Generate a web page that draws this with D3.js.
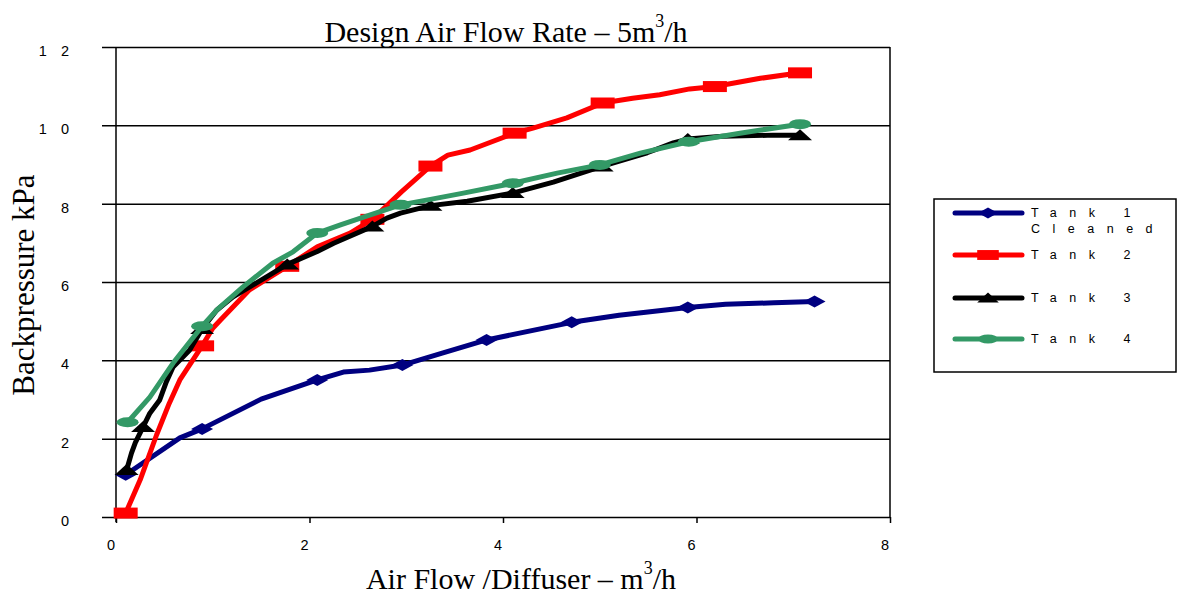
<!DOCTYPE html>
<html lang="en">
<head>
<meta charset="utf-8">
<title>backpressure</title>
<script src="https://cdn.jsdelivr.net/npm/d3@7"></script>
<style>
  body { margin: 0; background: #fff; }
  svg { display: block; }
  .tick text { font-family: "Liberation Sans", Arial, sans-serif; font-size: 14.5px; letter-spacing: 14px; fill: #000; }
  .serif { font-family: "Liberation Serif", "Times New Roman", serif; fill: #000; }
  .leg { font-family: "Liberation Sans", Arial, sans-serif; font-size: 12.5px; letter-spacing: 12.5px; fill: #000; }
</style>
</head>
<body>
<svg id="canvas" width="1177" height="595"></svg>
<script>
// series: [air flow m3/h, backpressure kPa]
const tank1 = [[0.10,1.08],[0.66,2.02],[0.89,2.25],[1.50,3.01],[2.08,3.50],[2.35,3.70],[2.62,3.75],[2.96,3.88],
  [3.38,4.19],[3.83,4.52],[4.71,4.97],[5.20,5.15],[5.91,5.35],[6.30,5.43],[6.80,5.47],[7.22,5.50]]
const tank1Marks = [0, 2, 4, 7, 9, 10, 12, 15]

const tank2 = [[0.10,0.10],[0.25,0.95],[0.42,2.10],[0.55,2.90],[0.66,3.50],[0.89,4.37],[1.00,4.82],[1.08,5.03],
  [1.38,5.80],[1.77,6.40],[2.08,6.90],[2.42,7.25],[2.65,7.60],[2.95,8.30],[3.25,8.96],[3.43,9.24],[3.66,9.37],
  [4.12,9.80],[4.31,9.93],[4.66,10.19],[5.03,10.57],[5.34,10.69],[5.62,10.78],[5.93,10.93],[6.19,10.99],
  [6.66,11.20],[7.07,11.34]]
const tank2Marks = [0, 5, 9, 12, 14, 17, 20, 24, 26]

const tank3 = [[0.11,1.20],[0.16,1.63],[0.20,1.90],[0.28,2.30],[0.35,2.65],[0.45,2.98],[0.52,3.45],[0.59,3.83],
  [0.76,4.26],[0.89,4.80],[1.04,5.28],[1.21,5.62],[1.50,6.05],[1.77,6.45],[2.08,6.78],[2.25,6.99],[2.65,7.42],
  [2.80,7.63],[2.94,7.76],[3.25,7.95],[3.63,8.06],[4.10,8.27],[4.52,8.55],[5.02,8.95],[5.49,9.30],[5.76,9.55],
  [5.91,9.65],[6.27,9.72],[6.79,9.75],[7.07,9.75]]
const tank3Marks = [0, 3, 9, 13, 16, 19, 21, 23, 26, 29]

const tank4 = [[0.12,2.42],[0.35,3.06],[0.59,3.93],[0.89,4.87],[1.04,5.28],[1.31,5.87],[1.62,6.48],[1.83,6.77],
  [2.08,7.25],[2.32,7.46],[2.59,7.68],[2.94,7.97],[3.25,8.11],[3.59,8.27],[4.10,8.52],[4.56,8.78],[5.00,8.99],
  [5.42,9.29],[5.92,9.58],[6.45,9.80],[7.07,10.03]]
const tank4Marks = [0, 3, 8, 11, 14, 16, 18, 20]

const seriesNames = [["Tank 1", "Cleaned"], ["Tank 2"], ["Tank 3"], ["Tank 4"]]
const xTicks = [0, 2, 4, 6, 8]
const yTicks = [0, 2, 4, 6, 8, 10, 12]

const svg = d3.select("#canvas")
const plotL = 116, plotR = 890, plotT = 47, plotB = 517

const x = d3.scaleLinear().domain([0, 8]).range([plotL, plotR])
const y = d3.scaleLinear().domain([0, 12]).range([plotB, plotT])

// grid + y axis
const yAxis = svg.append("g")
  .attr("transform", `translate(${plotL},0)`)
  .call(d3.axisLeft(y).tickValues(yTicks).tickSizeInner(-(plotR - plotL)).tickSizeOuter(0).tickPadding(0))
yAxis.select(".domain").remove()
yAxis.selectAll(".tick line").attr("x1", -14).attr("stroke", "#000").attr("stroke-width", 1.5)
yAxis.selectAll(".tick text").attr("x", -33).attr("dy", null).attr("y", 8.5)

// x axis
const xAxis = svg.append("g")
  .attr("transform", `translate(0,${plotB})`)
  .call(d3.axisBottom(x).tickValues(xTicks).tickSizeInner(6).tickSizeOuter(0).tickPadding(0))
xAxis.select(".domain").remove()
xAxis.selectAll(".tick line").attr("stroke", "#000").attr("stroke-width", 1.5)
xAxis.selectAll(".tick text").attr("dy", null).attr("y", 33).attr("dx", 1.5)

// frame
svg.append("line").attr("x1", plotL).attr("x2", plotL).attr("y1", plotT).attr("y2", plotB + 5)
  .attr("stroke", "#000").attr("stroke-width", 1.5)
svg.append("line").attr("x1", plotR).attr("x2", plotR).attr("y1", plotT).attr("y2", plotB)
  .attr("stroke", "#000").attr("stroke-width", 1.5)

const series = [
  { data: tank1, marks: tank1Marks, color: "#000080", shape: "diamond" },
  { data: tank2, marks: tank2Marks, color: "#ff0000", shape: "square" },
  { data: tank3, marks: tank3Marks, color: "#000000", shape: "triangle" },
  { data: tank4, marks: tank4Marks, color: "#339966", shape: "circle" }
]

function marker(g, shape, color, cx, cy, k) {
  if (shape === "diamond") {
    g.append("path").attr("d", `M${cx - 11 * k},${cy} L${cx},${cy - 6 * k} L${cx + 11 * k},${cy} L${cx},${cy + 6 * k} Z`).attr("fill", color)
  } else if (shape === "square") {
    g.append("rect").attr("x", cx - 12 * k).attr("y", cy - 5.5 * k).attr("width", 24 * k).attr("height", 11 * k).attr("fill", color)
  } else if (shape === "triangle") {
    g.append("path").attr("d", `M${cx - 12 * k},${cy + 5 * k} L${cx},${cy - 6 * k} L${cx + 12 * k},${cy + 5 * k} Z`).attr("fill", color)
  } else {
    g.append("ellipse").attr("cx", cx).attr("cy", cy).attr("rx", 11 * k).attr("ry", 5 * k).attr("fill", color)
  }
}

const line = d3.line().x(d => x(d[0])).y(d => y(d[1]))
const plot = svg.append("g")
series.forEach(s => {
  plot.append("path").attr("d", line(s.data)).attr("fill", "none")
    .attr("stroke", s.color).attr("stroke-width", 5).attr("stroke-linejoin", "round").attr("stroke-linecap", "round")
  s.marks.forEach(i => marker(plot, s.shape, s.color, x(s.data[i][0]), y(s.data[i][1]), 1))
})

// titles
const title = svg.append("text").attr("class", "serif").attr("x", 506).attr("y", 42)
  .attr("text-anchor", "middle").style("font-size", "30px")
title.append("tspan").text("Design Air Flow Rate \u2013 5m")
title.append("tspan").text("3").style("font-size", "18px").attr("dy", -15)
title.append("tspan").text("/h").attr("dy", 15)

const xTitle = svg.append("text").attr("class", "serif").attr("x", 521).attr("y", 589)
  .attr("text-anchor", "middle").style("font-size", "30px")
xTitle.append("tspan").text("Air Flow /Diffuser \u2013 m")
xTitle.append("tspan").text("3").style("font-size", "18px").attr("dy", -15)
xTitle.append("tspan").text("/h").attr("dy", 15)

svg.append("text").attr("class", "serif").attr("transform", "translate(34,285) rotate(-90)")
  .attr("text-anchor", "middle").style("font-size", "31px").text("Backpressure kPa")

// legend
const legend = svg.append("g")
legend.append("rect").attr("x", 934).attr("y", 199).attr("width", 242).attr("height", 173)
  .attr("fill", "#fff").attr("stroke", "#000").attr("stroke-width", 1.5)
const legY = [213, 255, 298, 339]
series.forEach((s, i) => {
  legend.append("line").attr("x1", 955).attr("x2", 1022).attr("y1", legY[i]).attr("y2", legY[i])
    .attr("stroke", s.color).attr("stroke-width", 5).attr("stroke-linecap", "round")
  marker(legend, s.shape, s.color, 988, legY[i], 0.9)
  seriesNames[i].forEach((t, j) => {
    legend.append("text").attr("class", "leg").attr("x", 1031).attr("y", legY[i] + 4 + j * 16).text(t)
  })
})
</script>
</body>
</html>
